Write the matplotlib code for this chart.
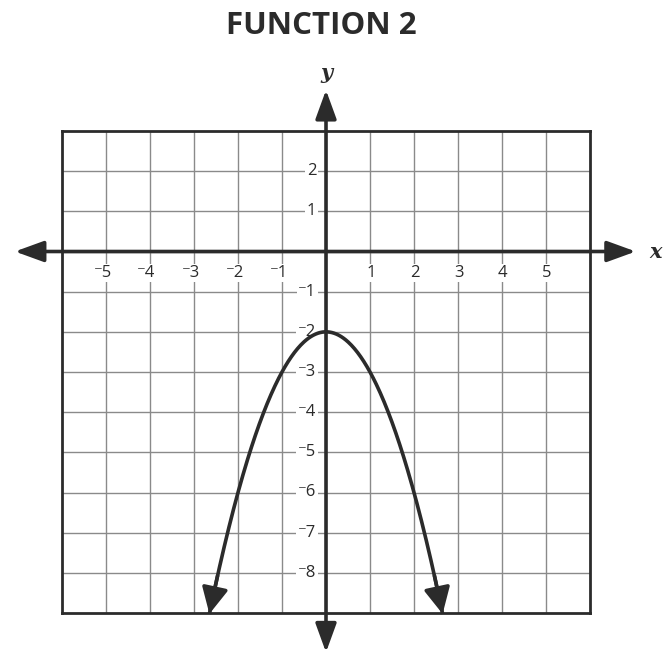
import numpy as np
import matplotlib
matplotlib.use("Agg")
import matplotlib.pyplot as plt

# ---- data ----
title = "FUNCTION 2"
x_ticks = [-5, -4, -3, -2, -1, 1, 2, 3, 4, 5]
y_ticks = [2, 1, -1, -2, -3, -4, -5, -6, -7, -8]
x_tick_labels = ["\u207b5", "\u207b4", "\u207b3", "\u207b2", "\u207b1", "1", "2", "3", "4", "5"]
y_tick_labels = ["2", "1", "\u207b1", "\u207b2", "\u207b3", "\u207b4", "\u207b5", "\u207b6", "\u207b7", "\u207b8"]
# parabola y = a*x^2 + c (vertex (0,-2), through (±2,-6))
coef_a = -1.0
coef_c = -2.0
curve_x_ends = [-2.65, 2.65]

dark = "#2b2b2b"
grid_c = "#8a8a8a"
fam = ["Open Sans", "DejaVu Sans"]

fig = plt.figure(figsize=(6.64, 6.52), dpi=100)
ax = fig.add_axes([62/664, 1-613/652, 528/664, 482/652])
ax.set_xlim(-6, 6)
ax.set_ylim(-9, 3)
ax.set_xticks([])
ax.set_yticks([])
for s in ax.spines.values():
    s.set_linewidth(2.0)
    s.set_color(dark)

# grid
for gx in range(-5, 6):
    ax.axvline(gx, color=grid_c, lw=1.0, zorder=1)
for gy in range(-8, 3):
    ax.axhline(gy, color=grid_c, lw=1.0, zorder=1)

# tick labels
for v, lab in zip(x_ticks, x_tick_labels):
    ax.text(v + 0.13, -0.53, lab, ha="right", va="center", fontsize=12,
            family=fam, color=dark, zorder=3,
            bbox=dict(boxstyle="square,pad=0.05", fc="white", ec="none"))
for v, lab in zip(y_ticks, y_tick_labels):
    ax.text(-0.22, v, lab, ha="right", va="center", fontsize=12,
            family=fam, color=dark, zorder=3,
            bbox=dict(boxstyle="square,pad=0.1", fc="white", ec="none"))

# axes with arrows
arr = dict(arrowstyle="<|-|>,head_length=1.1,head_width=0.4", color=dark,
           lw=2.6, mutation_scale=16, shrinkA=0, shrinkB=0)
ax.annotate("", xy=(7.04, 0), xytext=(-7.07, 0), arrowprops=arr,
            annotation_clip=False, zorder=4)
ax.annotate("", xy=(0, 4.02), xytext=(0, -9.98), arrowprops=arr,
            annotation_clip=False, zorder=4)

ax.text(7.5, 0, "x", ha="center", va="center", fontsize=15, style="italic",
        fontweight="bold", family="DejaVu Serif", color=dark)
ax.text(0, 4.45, "y", ha="center", va="center", fontsize=15, style="italic",
        fontweight="bold", family="DejaVu Serif", color=dark)

# parabola
xs = np.linspace(curve_x_ends[0], curve_x_ends[1], 300)
ys = coef_a * xs**2 + coef_c
ax.plot(xs, ys, color=dark, lw=2.6, zorder=5, solid_capstyle="butt", clip_on=False)
head = dict(arrowstyle="-|>,head_length=1.0,head_width=0.5", color=dark,
            lw=2.6, mutation_scale=16, shrinkA=0, shrinkB=0)
for xe in curve_x_ends:
    xb = xe * 0.93
    ax.annotate("", xy=(xe, coef_a * xe**2 + coef_c),
                xytext=(xb, coef_a * xb**2 + coef_c),
                arrowprops=head, annotation_clip=False, zorder=5)

fig.text(321/664, 1-26/652, title, ha="center", va="center", fontsize=22.5,
         fontweight="bold", family=fam, color=dark)

fig.savefig("out.png", dpi=100, facecolor="white")
